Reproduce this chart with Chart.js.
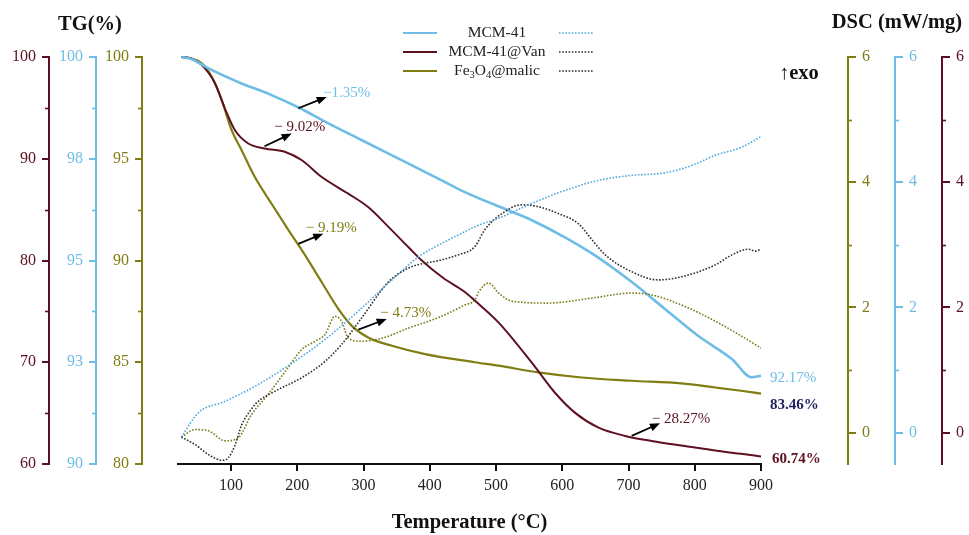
<!DOCTYPE html>
<html>
<head>
<meta charset="utf-8">
<script src="https://cdn.jsdelivr.net/npm/chart.js@4/dist/chart.umd.min.js"></script>
<style>
  html, body { margin: 0; padding: 0; background: #fff; }
</style>
</head>
<body>
<canvas id="tga" width="969" height="535"></canvas>
<script>
// TG (solid) and DSC (dotted) curves, temperature in °C
var mcmTemp = [25, 40, 66, 116, 156, 202, 247, 297, 368, 418, 453, 519, 554, 604, 650, 705, 755, 805, 856, 886, 900];
var mcmTG   = [100, 99.95, 99.72, 99.35, 99.1, 98.76, 98.37, 97.96, 97.38, 96.97, 96.68, 96.23, 95.99, 95.57, 95.12, 94.47, 93.81, 93.15, 92.58, 92.13, 92.17];

var vanTemp = [25, 40, 56, 76, 91, 106, 126, 151, 182, 207, 237, 277, 307, 338, 368, 388, 420, 453, 468, 504, 554, 589, 619, 654, 695, 735, 785, 836, 870, 900];
var vanTG   = [100, 99.85, 99.2, 97.4, 94.9, 92.8, 91.5, 91.0, 90.67, 89.85, 88.2, 86.57, 85.25, 83.28, 81.3, 80.0, 78.3, 76.9, 76.06, 73.9, 69.96, 67.0, 65.05, 63.6, 62.76, 62.27, 61.77, 61.28, 61.0, 60.74];

var malicTemp = [25, 40, 56, 71, 86, 101, 116, 136, 161, 187, 212, 237, 262, 282, 307, 343, 393, 468, 504, 564, 629, 705, 780, 831, 870, 900];
var malicTG   = [100, 99.92, 99.69, 99.03, 97.88, 96.4, 95.42, 94.1, 92.8, 91.48, 90.25, 88.93, 87.62, 86.8, 86.22, 85.81, 85.4, 85.0, 84.83, 84.5, 84.25, 84.09, 83.96, 83.76, 83.6, 83.46];

var mcmDscTemp = [25, 51, 91, 141, 192, 242, 292, 343, 383, 400, 453, 468, 503, 554, 604, 655, 705, 755, 796, 831, 871, 900];
var mcmDSC     = [-0.07, 0.32, 0.5, 0.77, 1.11, 1.49, 1.94, 2.44, 2.81, 2.92, 3.21, 3.29, 3.42, 3.66, 3.87, 4.03, 4.11, 4.15, 4.27, 4.43, 4.56, 4.73];

var vanDscTemp = [25, 46, 66, 86, 96, 106, 116, 131, 141, 166, 207, 242, 267, 297, 338, 368, 418, 443, 468, 483, 509, 539, 564, 594, 624, 645, 665, 705, 745, 780, 831, 856, 881, 891, 900];
var vanDSC     = [-0.07, -0.19, -0.35, -0.44, -0.4, -0.2, 0.12, 0.38, 0.5, 0.66, 0.88, 1.14, 1.41, 1.83, 2.41, 2.63, 2.76, 2.84, 2.97, 3.24, 3.5, 3.64, 3.61, 3.5, 3.34, 3.08, 2.84, 2.57, 2.44, 2.49, 2.68, 2.84, 2.93, 2.9, 2.93];

var malicDscTemp = [25, 46, 66, 91, 111, 131, 156, 182, 207, 227, 242, 257, 267, 277, 297, 328, 368, 418, 453, 468, 474, 489, 504, 524, 579, 645, 705, 735, 780, 831, 871, 900];
var malicDSC     = [-0.07, 0.05, 0.03, -0.13, -0.08, 0.29, 0.61, 0.98, 1.33, 1.46, 1.57, 1.86, 1.78, 1.51, 1.46, 1.51, 1.67, 1.86, 2.04, 2.12, 2.25, 2.39, 2.23, 2.1, 2.07, 2.15, 2.23, 2.2, 2.04, 1.78, 1.54, 1.35];

// axis ticks
var tempTicks = [100, 200, 300, 400, 500, 600, 700, 800, 900];
var vanTicks = [60, 70, 80, 90, 100];
var vanMinor = [65, 75, 85, 95];
var mcmTicks = [90, 92.5, 95, 97.5, 100];
var mcmTickLabels = ['90', '93', '95', '98', '100'];
var mcmMinor = [91.25, 93.75, 96.25, 98.75];
var malicTicks = [80, 85, 90, 95, 100];
var malicMinor = [82.5, 87.5, 92.5, 97.5];
var dscTicks = [0, 2, 4, 6];
var dscMinor = [1, 3, 5];

// mass loss steps
var stepLabels = ['\u22121.35%', '\u2212 9.02%', '\u2212 9.19%', '\u2212 4.73%', '\u2212 28.27%'];
var stepAxis   = ['yMcm', 'yVan', 'yMalic', 'yMalic', 'yVan'];
var stepFrom   = [[201.6, 98.74], [150.6, 91.23], [201.6, 90.82], [292.3, 86.6], [704.8, 62.76]];
var stepTo     = [[244.5, 99.02], [191.6, 92.48], [239.3, 91.32], [335, 87.13], [747.6, 64.01]];
var stepShift  = [[20, -4], [8, -6], [8, -6], [19, -6], [21, -4]];

// residual mass at 900 °C
var endLabels = ['92.17%', '83.46%', '60.74%'];
var endValues = [92.17, 83.46, 60.74];

var MAROON = '#5c1020';
var BLUE = '#6dbde6';
var OLIVE = '#817d12';
var DARKDOT = '#3a2c2e';
var BLUEDOT = '#4ea9dd';
var OLIVEDOT = '#7c7a18';
var NAVY = '#1f1f5c';
var SERIF = '"Liberation Serif", "DejaVu Serif", serif';

function pts(t, v) {
    var out = [];
    for (var i = 0; i < t.length; i++) out.push({x: t[i], y: v[i]});
    return out;
}

function fixTicks(vals) {
    return function (s) { s.ticks = vals.map(function (v) { return {value: v}; }); };
}

function yAxis(pos, weight, min, max, ticks, color, width, labels) {
    return {
        type: 'linear', position: pos, weight: weight, min: min, max: max,
        afterBuildTicks: fixTicks(ticks),
        afterFit: function (s) { s.width = width; },
        border: {display: true, color: color, width: 2},
        grid: {drawOnChartArea: false, drawTicks: true, tickLength: pos == 'left' ? 7 : 8, color: color, lineWidth: 2},
        ticks: {
            color: color, padding: 6, font: {family: SERIF, size: 16},
            callback: function (v, i) { return labels ? labels[i] : String(v); }
        }
    };
}

function spacer(pos, width) {
    return {
        type: 'linear', position: pos, weight: 0, display: true,
        afterFit: function (s) { s.width = width; },
        border: {display: false}, grid: {display: false}, ticks: {display: false}
    };
}

var minorTicks = {
    yVan: vanMinor, yMcm: mcmMinor, yMalic: malicMinor,
    dMalic: dscMinor, dMcm: dscMinor, dVan: dscMinor
};

function drawArrow(ctx, x0, y0, x1, y1) {
    var a = Math.atan2(y1 - y0, x1 - x0);
    var head = 10, half = 4;
    var c = Math.cos(a), s = Math.sin(a);
    ctx.beginPath();
    ctx.moveTo(x0, y0);
    ctx.lineTo(x1 - head * 0.8 * c, y1 - head * 0.8 * s);
    ctx.stroke();
    ctx.beginPath();
    ctx.moveTo(x1, y1);
    ctx.lineTo(x1 - head * c + half * s, y1 - head * s - half * c);
    ctx.lineTo(x1 - head * c - half * s, y1 - head * s + half * c);
    ctx.closePath();
    ctx.fill();
}

// text with subscripts, parts = [[text, isSub], ...], centred on cx
function subText(ctx, parts, cx, y, size) {
    var w = 0;
    parts.forEach(function (p) {
        ctx.font = (p[1] ? size * 0.68 : size) + 'px ' + SERIF;
        w += ctx.measureText(p[0]).width;
    });
    var x = cx - w / 2;
    ctx.textAlign = 'left';
    parts.forEach(function (p) {
        ctx.font = (p[1] ? size * 0.68 : size) + 'px ' + SERIF;
        ctx.fillText(p[0], x, p[1] ? y + 4 : y);
        x += ctx.measureText(p[0]).width;
    });
}

var extras = {
    id: 'extras',
    afterDraw: function (chart) {
        var ctx = chart.ctx;
        var sc = chart.scales;
        var x = sc.x;
        ctx.save();

        // minor ticks
        ctx.lineWidth = 1.6;
        Object.keys(minorTicks).forEach(function (id) {
            var s = sc[id];
            ctx.strokeStyle = s.options.border.color;
            minorTicks[id].forEach(function (v) {
                var py = Math.round(s.getPixelForValue(v)) + 0.5;
                ctx.beginPath();
                if (s.position == 'left') { ctx.moveTo(s.right - 4, py); ctx.lineTo(s.right, py); }
                else { ctx.moveTo(s.left, py); ctx.lineTo(s.left + 4, py); }
                ctx.stroke();
            });
        });

        // titles
        ctx.fillStyle = '#111';
        ctx.textBaseline = 'middle';
        ctx.textAlign = 'center';
        ctx.font = 'bold 20.5px ' + SERIF;
        ctx.fillText('TG(%)', 90, 25);
        ctx.fillText('DSC (mW/mg)', 897, 23);
        ctx.textAlign = 'left';
        ctx.fillText('\u2191exo', 779, 74);

        // mass loss arrows
        ctx.strokeStyle = '#000';
        ctx.fillStyle = '#000';
        ctx.lineWidth = 1.8;
        for (var i = 0; i < stepLabels.length; i++) {
            var ys = sc[stepAxis[i]];
            var x0 = x.getPixelForValue(stepFrom[i][0]), y0 = ys.getPixelForValue(stepFrom[i][1]);
            var x1 = x.getPixelForValue(stepTo[i][0]), y1 = ys.getPixelForValue(stepTo[i][1]);
            drawArrow(ctx, x0, y0, x1, y1);
        }
        ctx.font = '15px ' + SERIF;
        ctx.textAlign = 'center';
        for (var j = 0; j < stepLabels.length; j++) {
            var yk = sc[stepAxis[j]];
            ctx.fillStyle = yk.options.border.color;
            ctx.fillText(stepLabels[j],
                x.getPixelForValue(stepTo[j][0]) + stepShift[j][0],
                yk.getPixelForValue(stepTo[j][1]) + stepShift[j][1]);
        }

        // residual mass labels
        var ex = chart.chartArea.right + 9;
        ctx.textAlign = 'left';
        ctx.font = '15px ' + SERIF;
        ctx.fillStyle = BLUE;
        ctx.fillText(endLabels[0], ex, sc.yMcm.getPixelForValue(endValues[0]) + 2);
        ctx.font = 'bold 15px ' + SERIF;
        ctx.fillStyle = NAVY;
        ctx.fillText(endLabels[1], ex, sc.yMalic.getPixelForValue(endValues[1]) + 12);
        ctx.fillStyle = MAROON;
        ctx.fillText(endLabels[2], ex + 2, sc.yVan.getPixelForValue(endValues[2]) + 3);

        // legend
        var rows = [33, 52, 71];
        var solid = [BLUE, MAROON, OLIVE];
        var dots = [BLUEDOT, DARKDOT, DARKDOT];
        for (var r = 0; r < 3; r++) {
            ctx.setLineDash([]);
            ctx.lineWidth = 2;
            ctx.strokeStyle = solid[r];
            ctx.beginPath(); ctx.moveTo(403, rows[r]); ctx.lineTo(437, rows[r]); ctx.stroke();
            ctx.setLineDash([1.6, 1.6]);
            ctx.lineWidth = 1.6;
            ctx.strokeStyle = dots[r];
            ctx.beginPath(); ctx.moveTo(559, rows[r]); ctx.lineTo(594, rows[r]); ctx.stroke();
        }
        ctx.setLineDash([]);
        ctx.fillStyle = '#222';
        subText(ctx, [['MCM-41', false]], 497, rows[0], 15.5);
        subText(ctx, [['MCM-41@Van', false]], 497, rows[1], 15.5);
        subText(ctx, [['Fe', false], ['3', true], ['O', false], ['4', true], ['@malic', false]], 497, rows[2], 15.5);

        ctx.restore();
    }
};

function solidSet(data, color, axis, w) {
    return {data: data, yAxisID: axis, borderColor: color, borderWidth: w, pointRadius: 0,
        cubicInterpolationMode: 'monotone', fill: false, clip: false};
}
function dotSet(data, color, axis) {
    return {data: data, yAxisID: axis, borderColor: color, borderWidth: 1.6, borderDash: [1.6, 1.6],
        pointRadius: 0, cubicInterpolationMode: 'monotone', fill: false, clip: false};
}

new Chart(document.getElementById('tga'), {
    type: 'line',
    data: {
        datasets: [
            dotSet(pts(mcmDscTemp, mcmDSC), BLUEDOT, 'dMcm'),
            dotSet(pts(vanDscTemp, vanDSC), DARKDOT, 'dVan'),
            dotSet(pts(malicDscTemp, malicDSC), OLIVEDOT, 'dMalic'),
            solidSet(pts(mcmTemp, mcmTG), BLUE, 'yMcm', 2.6),
            solidSet(pts(vanTemp, vanTG), MAROON, 'yVan', 2),
            solidSet(pts(malicTemp, malicTG), OLIVE, 'yMalic', 2.2)
        ]
    },
    options: {
        responsive: false,
        animation: false,
        layout: {padding: {top: 57, left: 0, right: 0, bottom: 0}},
        plugins: {legend: {display: false}, tooltip: {enabled: false}},
        scales: {
            x: {
                type: 'linear', position: 'bottom', min: 20, max: 900,
                afterBuildTicks: fixTicks(tempTicks),
                afterFit: function (s) { s.height = 71; },
                border: {color: '#111', width: 2},
                grid: {drawOnChartArea: false, tickLength: 7, color: '#111', lineWidth: 2},
                ticks: {color: '#222', padding: 5, font: {family: SERIF, size: 16}},
                title: {display: true, text: 'Temperature (\u00b0C)', color: '#111',
                    font: {family: SERIF, size: 20.5, weight: 'bold'}, padding: {top: 0, bottom: 0}}
            },
            yVan: yAxis('left', 3, 60, 100, vanTicks, MAROON, 49),
            yMcm: yAxis('left', 2, 90, 100, mcmTicks, BLUE, 47, mcmTickLabels),
            yMalic: yAxis('left', 1, 80, 100, malicTicks, OLIVE, 46),
            padL: spacer('left', 36),
            padR: spacer('right', 87),
            dMalic: yAxis('right', 1, -0.5, 6, dscTicks, OLIVE, 47),
            dMcm: yAxis('right', 2, -0.5, 6, dscTicks, BLUE, 47),
            dVan: yAxis('right', 3, -0.5, 6, dscTicks, MAROON, 27)
        }
    },
    plugins: [extras]
});
</script>
</body>
</html>
